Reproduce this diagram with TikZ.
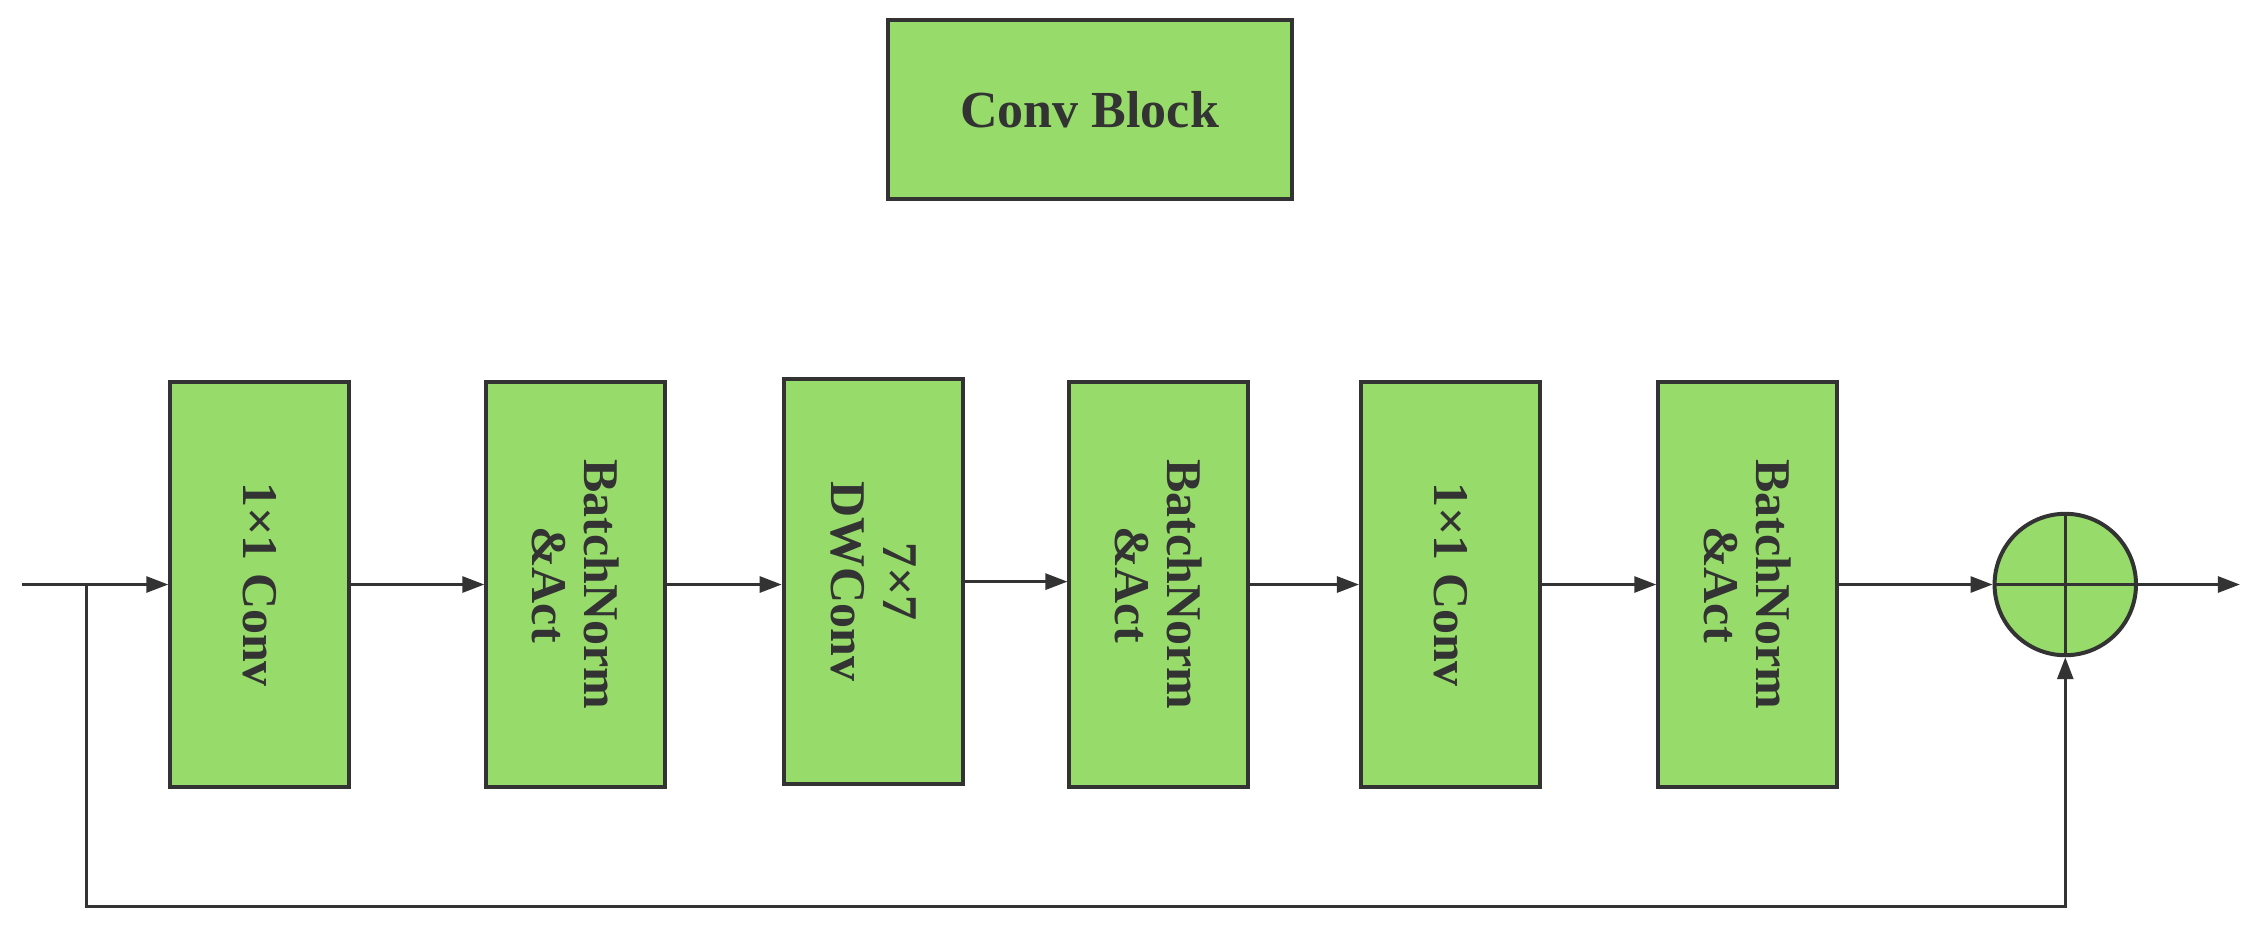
\documentclass[tikz,border=0pt]{standalone}
\usepackage{fontspec}
\setmainfont{Liberation Serif}
\usetikzlibrary{arrows.meta}
\definecolor{gfill}{HTML}{97DC6A}
\definecolor{ln}{HTML}{333333}
\begin{document}
\begin{tikzpicture}[x=1.443pt,y=-1.443pt,
  blk/.style={draw=ln,line width=4pt,fill=gfill,minimum width=124*1.443pt,minimum height=281*1.443pt,inner sep=0pt},
  lbl/.style={rotate=-90,font=\fontsize{50}{52}\selectfont\bfseries,text=ln,align=center},
  arr/.style={draw=ln,line width=2.8pt,-{Triangle[length=22pt,width=16pt]}},
  ln/.style={draw=ln,line width=2.8pt}]
\useasboundingbox (0,0) rectangle (1568,651);
\node[draw=ln,line width=4pt,fill=gfill,minimum width=280*1.443pt,minimum height=124*1.443pt,font=\fontsize{52}{54}\selectfont\bfseries,text=ln] (title) at (755,76) {Conv Block};
\node[blk] (b1) at (180,405) {};
\node[lbl] at (b1) {1×1 Conv};
\node[blk] (b2) at (399,405) {};
\node[lbl] at (b2) {BatchNorm\\\&Act};
\node[blk] (b3) at (605,403) {};
\node[lbl] at (b3) {7×7\\DWConv};
\node[blk] (b4) at (803,405) {};
\node[lbl] at (b4) {BatchNorm\\\&Act};
\node[blk] (b5) at (1005,405) {};
\node[lbl] at (b5) {1×1 Conv};
\node[blk] (b6) at (1211,405) {};
\node[lbl] at (b6) {BatchNorm\\\&Act};
\node[circle,draw=ln,line width=4pt,fill=gfill,minimum size=98*1.443pt,inner sep=0pt] (sum) at (1431,405) {};
\draw[ln] (sum.north)--(sum.south) (sum.west)--(sum.east);
\coordinate (in) at (15,405);
\coordinate (sp) at (60,405);
\coordinate (out) at (1552,405);
\coordinate (c1) at (60,628);
\coordinate (c2) at (1431,628);
\draw[arr] (in)--(b1);
\draw[arr] (b1)--(b2);
\draw[arr] (b2)--(b3.west|-b2);
\draw[arr] (b3)--(b4.west|-b3);
\draw[arr] (b4)--(b5);
\draw[arr] (b5)--(b6);
\draw[arr] (b6)--(sum);
\draw[arr] (sum)--(out);
\draw[arr] (sp)--(c1)--(c2)--(sum.south);
\end{tikzpicture}
\end{document}
